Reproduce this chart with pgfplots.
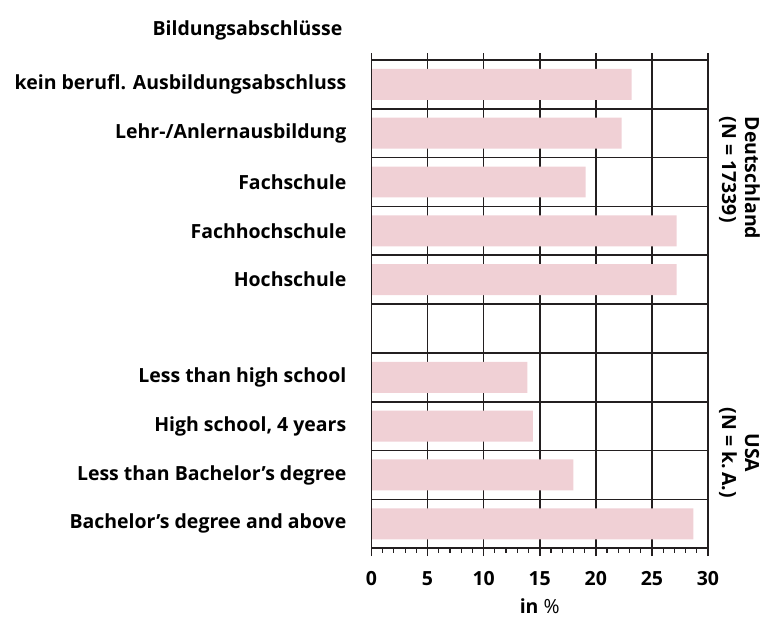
\documentclass[border=0pt]{standalone}
\usepackage{fontspec}
\setmainfont{Open Sans}
\usepackage{pgfplots}
\pgfplotsset{compat=1.18}
\definecolor{barpink}{RGB}{240,208,213}
\definecolor{gridk}{RGB}{35,31,32}
\newcommand{\labfont}{\fontsize{19.5bp}{23bp}\selectfont\bfseries}
\begin{document}
\begin{tikzpicture}
\begin{axis}[
  scale only axis, width=337bp, height=489bp,
  xmin=0, xmax=30, ymin=0.5, ymax=10.5,
  /pgf/number format/assume math mode=true,
  clip=false,
  name=main,
  font=\labfont,
  axis line style={line width=1.7bp, gridk},
  xtick={0,5,...,30}, minor x tick num=4,
  xtick pos=bottom, xtick align=outside,
  major tick length=8bp, minor tick length=4.5bp,
  every tick/.style={line width=1.7bp, gridk},
  minor tick style={line width=1.2bp, gridk},
  every axis grid/.style={line width=1.7bp, draw=gridk},
  xmajorgrids,
  ytick={1,2,3,4,6,7,8,9,10},
  yticklabels={Bachelor’s degree and above, Less than Bachelor’s degree, {High school, 4 years}, Less than high school, Hochschule, Fachhochschule, Fachschule, Lehr-/Anlernausbildung, kein berufl. Ausbildungsabschluss},
  ytick style={draw=none},
  ytick pos=left,
  yticklabel style={anchor=east, inner sep=0pt, xshift=-25bp},
  xticklabel style={inner sep=0pt, yshift=-15bp},
  extra y ticks={0.5,1.5,...,10.5},
  extra y tick labels={},
  extra y tick style={grid=major, tick style={draw=gridk, line width=1.7bp}, major tick length=7bp, tick align=outside},
  xlabel={in {\mdseries\%}}, xlabel style={yshift=-10bp},
]
\addplot[xbar, bar width=31bp, fill=barpink, draw=none] coordinates {
(23.2,10) (22.3,9) (19.1,8) (27.2,7) (27.2,6) (13.9,4) (14.4,3) (18.0,2) (28.7,1)
};
\draw[line width=1.7bp, gridk] (axis cs:0,0.5) -- (axis cs:0,10.5);
\node[anchor=south, rotate=-90, align=left, font=\labfont, inner sep=0pt] at ([xshift=11bp]axis cs:30,8.08) {Deutschland\\(N = 17339)};
\node[anchor=south, rotate=-90, align=center, font=\labfont, inner sep=0pt] at ([xshift=11bp]axis cs:30,2.45) {USA\\(N = k.\,A.)};
\end{axis}
\foreach \i in {0,...,6} {
  \draw[line width=1.7bp, gridk] ([xshift=\i*56.1667bp]main.north west) -- ([xshift=\i*56.1667bp, yshift=6.5bp]main.north west);
}
\node[anchor=east, font=\labfont, inner sep=0pt] at ([xshift=-29bp,yshift=30bp]main.north west) {Bildungsabschlüsse};
\useasboundingbox ([xshift=-372bp,yshift=-66bp]main.south west) rectangle ([xshift=51bp,yshift=60bp]main.north east);
\end{tikzpicture}
\end{document}
